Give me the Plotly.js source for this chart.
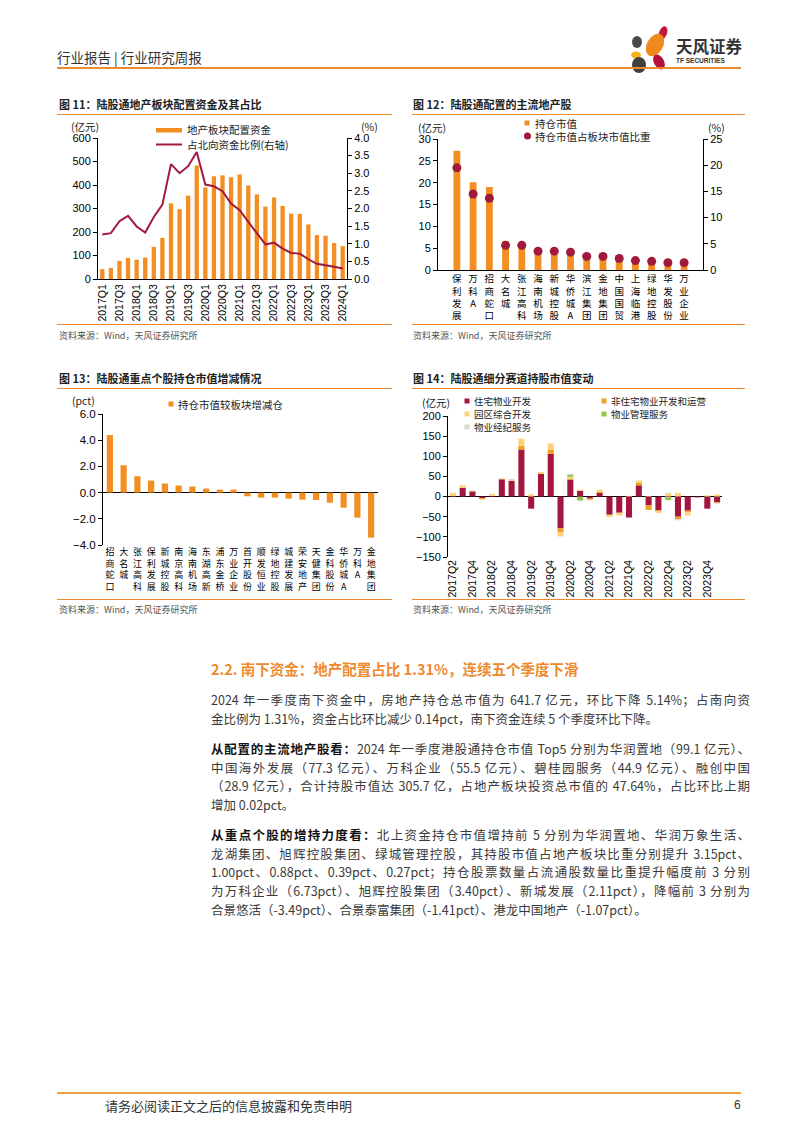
<!DOCTYPE html>
<html>
<head>
<meta charset="utf-8">
<script src="https://cdn.plot.ly/plotly-3.0.1.min.js"></script>
<style>
  body { margin: 0; background: #fff; font-family: "Noto Sans CJK SC", "Noto Sans", sans-serif; }
  #page { position: relative; width: 802px; height: 1133px; overflow: hidden; background: #fff; }
  .rule { position: absolute; height: 0; border-top: 1.5px solid #EE8A2E; }
  .ftitle { position: absolute; font-size: 11px; font-weight: bold; color: #222; line-height: 14px; white-space: nowrap; }
  .src { position: absolute; font-size: 9px; color: #555; line-height: 12px; white-space: nowrap; }
  .chart { position: absolute; width: 345px; height: 210px; }
  #body { position: absolute; left: 211px; top: 0; width: 539px; }
  .ln { position: absolute; left: 0; width: 539px; font-size: 12.5px; line-height: 18px; height: 18px; color: #3a3a3a;
        text-align: justify; text-align-last: justify; overflow: hidden; }
  .ln.last { text-align-last: left; }
  .ln b { color: #111; }
</style>
</head>
<body>
<div id="page">
  <!-- header -->
  <div style="position:absolute;left:57px;top:48px;font-size:13.5px;color:#333;line-height:18px;">行业报告 | 行业研究周报</div>
  <svg style="position:absolute;left:624px;top:24px;" width="52" height="50">
    <ellipse cx="39" cy="9" rx="4" ry="7" fill="#C3173E" transform="rotate(20 39 9)"/>
    <ellipse cx="31" cy="21" rx="8" ry="12" fill="#F0891C" transform="rotate(30 31 21)"/>
    <ellipse cx="13" cy="18" rx="5" ry="6" fill="#4A4A4A"/>
    <ellipse cx="12" cy="31" rx="5" ry="3.5" fill="#F6B21B"/>
    <ellipse cx="15" cy="41" rx="7" ry="8" fill="#3F3F3F"/>
    <ellipse cx="35" cy="38" rx="5" ry="8" fill="#B3123A" transform="rotate(-30 35 38)"/>
  </svg>
  <div style="position:absolute;left:676px;top:36px;font-size:16.5px;font-weight:bold;color:#333;line-height:20px;">天风证券</div>
  <div style="position:absolute;left:676px;top:57px;font-size:6.5px;font-weight:bold;color:#333;line-height:8px;font-family:'Liberation Sans',sans-serif;">TF SECURITIES</div>
  <div class="rule" style="left:57px;top:67px;width:684px;border-top-width:2px;"></div>

  <!-- figure titles -->
  <div class="ftitle" style="left:59px;top:97px;">图 11：陆股通地产板块配置资金及其占比</div>
  <div class="rule" style="left:57px;top:114px;width:335px;"></div>
  <div class="ftitle" style="left:413px;top:97px;">图 12：陆股通配置的主流地产股</div>
  <div class="rule" style="left:412px;top:114px;width:333px;"></div>

  <div class="rule" style="left:57px;top:324px;width:335px;"></div>
  <div class="src" style="left:59px;top:330px;">资料来源：Wind，天风证券研究所</div>
  <div class="rule" style="left:412px;top:324px;width:333px;"></div>
  <div class="src" style="left:413px;top:330px;">资料来源：Wind，天风证券研究所</div>

  <div class="ftitle" style="left:59px;top:371px;">图 13：陆股通重点个股持仓市值增减情况</div>
  <div class="rule" style="left:57px;top:388px;width:335px;"></div>
  <div class="ftitle" style="left:413px;top:371px;">图 14：陆股通细分赛道持股市值变动</div>
  <div class="rule" style="left:412px;top:388px;width:333px;"></div>

  <div class="rule" style="left:57px;top:599px;width:335px;"></div>
  <div class="src" style="left:59px;top:604px;">资料来源：Wind，天风证券研究所</div>
  <div class="rule" style="left:412px;top:599px;width:333px;"></div>
  <div class="src" style="left:413px;top:604px;">资料来源：Wind，天风证券研究所</div>

  <!-- charts -->
  <div id="c11" class="chart" style="left:55px;top:115px;"></div>
  <div id="c12" class="chart" style="left:405px;top:115px;"></div>
  <div id="c13" class="chart" style="left:55px;top:392px;"></div>
  <div id="c14" class="chart" style="left:405px;top:392px;"></div>

  <!-- section text -->
  <div style="position:absolute;left:211px;top:659px;font-size:14.5px;font-weight:bold;color:#EE8A2E;line-height:20px;white-space:nowrap;">2.2. 南下资金：地产配置占比 1.31%，连续五个季度下滑</div>
  <div id="body">
    <div class="ln" style="top:691px;">2024 年一季度南下资金中，房地产持仓总市值为 641.7 亿元，环比下降 5.14%；占南向资</div>
    <div class="ln last" style="top:710px;">金比例为 1.31%，资金占比环比减少 0.14pct，南下资金连续 5 个季度环比下降。</div>

    <div class="ln" style="top:740px;"><b>从配置的主流地产股看：</b>2024 年一季度港股通持仓市值 Top5 分别为华润置地（99.1 亿元）、</div>
    <div class="ln" style="top:759px;">中国海外发展（77.3 亿元）、万科企业（55.5 亿元）、碧桂园服务（44.9 亿元）、融创中国</div>
    <div class="ln" style="top:777px;">（28.9 亿元），合计持股市值达 305.7 亿，占地产板块投资总市值的 47.64%，占比环比上期</div>
    <div class="ln last" style="top:796px;">增加 0.02pct。</div>

    <div class="ln" style="top:826px;"><b>从重点个股的增持力度看：</b>北上资金持仓市值增持前 5 分别为华润置地、华润万象生活、</div>
    <div class="ln" style="top:845px;">龙湖集团、旭辉控股集团、绿城管理控股，其持股市值占地产板块比重分别提升 3.15pct、</div>
    <div class="ln" style="top:863px;">1.00pct、0.88pct、0.39pct、0.27pct；持仓股票数量占流通股数量比重提升幅度前 3 分别</div>
    <div class="ln" style="top:882px;">为万科企业（6.73pct）、旭辉控股集团（3.40pct）、新城发展（2.11pct），降幅前 3 分别为</div>
    <div class="ln last" style="top:901px;">合景悠活（-3.49pct）、合景泰富集团（-1.41pct）、港龙中国地产（-1.07pct）。</div>
  </div>

  <!-- footer -->
  <div class="rule" style="left:57px;top:1092px;width:684px;border-top:2px solid #E9A23B;"></div>
  <div style="position:absolute;left:105px;top:1097px;font-size:13px;color:#333;line-height:17px;">请务必阅读正文之后的信息披露和免责申明</div>
  <div style="position:absolute;left:734px;top:1097px;font-size:12px;color:#333;line-height:17px;font-family:'Liberation Sans',sans-serif;">6</div>
</div>

<script>
// ---- data: figure 11 ----
const quarters11 = ['2017Q1','2017Q2','2017Q3','2017Q4','2018Q1','2018Q2','2018Q3','2018Q4',
  '2019Q1','2019Q2','2019Q3','2019Q4','2020Q1','2020Q2','2020Q3','2020Q4',
  '2021Q1','2021Q2','2021Q3','2021Q4','2022Q1','2022Q2','2022Q3','2022Q4',
  '2023Q1','2023Q2','2023Q3','2023Q4','2024Q1'];
const alloc11 = [42, 47, 77, 90, 82, 91, 137, 175, 322, 297, 355, 483, 390, 437, 441, 433,
  445, 398, 360, 308, 347, 311, 278, 277, 232, 187, 184, 153, 140];
const ratio11 = [1.26, 1.30, 1.64, 1.79, 1.49, 1.32, 1.76, 2.11, 3.26, 3.00, 3.20, 3.60, 2.68, 2.63, 2.49, 2.14,
  1.95, 1.61, 1.30, 0.98, 1.03, 0.86, 0.74, 0.72, 0.56, 0.43, 0.40, 0.35, 0.30];
const ticks11 = ['2017Q1','2017Q3','2018Q1','2018Q3','2019Q1','2019Q3','2020Q1','2020Q3',
  '2021Q1','2021Q3','2022Q1','2022Q3','2023Q1','2023Q3','2024Q1'];

// ---- data: figure 12 ----
const stocks12 = ['保利发展','万科A','招商蛇口','大名城','张江高科','海南机场','新城控股','华侨城A',
  '滨江集团','金地集团','中国国贸','上海临港','绿地控股','华发股份','万业企业'];
const holding12 = [27.3, 20.1, 19.0, 6.6, 6.4, 5.0, 4.9, 4.6, 3.7, 3.8, 2.9, 2.2, 2.0, 1.6, 1.6];
const share12 = [19.5, 14.5, 13.7, 4.7, 4.7, 3.6, 3.6, 3.4, 2.6, 2.6, 2.2, 1.8, 1.65, 1.4, 1.4];

// ---- data: figure 13 ----
const stocks13 = ['招商蛇口','大名城','张江高科','保利发展','新城控股','南京高科','海南机场','东湖高新',
  '浦东金桥','万业企业','首开股份','顺发恒业','绿地控股','城建发展','荣安地产','天健集团',
  '金科股份','华侨城A','万科A','金地集团'];
const change13 = [4.39, 2.09, 1.25, 0.92, 0.69, 0.54, 0.46, 0.31, 0.23, 0.23,
  -0.28, -0.38, -0.38, -0.46, -0.54, -0.56, -0.77, -1.15, -1.91, -3.44];

// ---- data: figure 14 ----
const quarters14 = ['2017Q2','2017Q3','2017Q4','2018Q1','2018Q2','2018Q3','2018Q4','2019Q1',
  '2019Q2','2019Q3','2019Q4','2020Q1','2020Q2','2020Q3','2020Q4','2021Q1',
  '2021Q2','2021Q3','2021Q4','2022Q1','2022Q2','2022Q3','2022Q4','2023Q1',
  '2023Q2','2023Q3','2023Q4','2024Q1'];
const ticks14 = ['2017Q2','2017Q4','2018Q2','2018Q4','2019Q2','2019Q4','2020Q2','2020Q4',
  '2021Q2','2021Q4','2022Q2','2022Q4','2023Q2','2023Q4'];
const residential14 = [1, 22, 13, -4, 2, 43, 39, 117, -30, 56, 106, -79, 42, 14, -5, 9,
  -45, -40, -52, 28, -22, -34, -2, -50, -35, -2, -30, -14];
const nonResidential14 = [0, 0, 0, -2, 0, 0, 0, 9, 0, 0, 11, -9, 3, 0, -3, 3,
  -2, -2, 0, 7, -11, -3, 0, -6, -4, 0, 0, -2];
const park14 = [8, 6, 2, -2, 5, 2, 2, 18, 6, 5, 15, -11, 4, 3, -1, 5,
  -4, -5, 2, 5, 2, -4, 8, 9, -8, 0, 3, 5];
const propMgmt14 = [0, 0, 0, 0, 0, 0, 0, 0, 0, 0, 0, 0, 5, -10, 0, 0,
  0, 0, 0, 0, 0, 0, -7, 0, 0, 0, 0, 0];
const brokerage14 = [0, 0, 0, 0, 0, 0, 3, 0, 0, 0, 0, 0, 3, 0, 0, 0,
  0, 0, 0, 0, 0, 0, 2, -3, 0, 0, 0, -2];

const NUM = 'Liberation Sans, Arial, sans-serif';
const CJK = 'Noto Sans CJK SC, sans-serif';
const ORANGE = '#F28E22';
const DARKRED = '#A01A3D';
const W = 345, H = 210;

// page pixel -> paper coords for a chart div
function mapper(ox, oy, m) {
  return {
    x: X => (X - ox - m.l) / (W - m.l - m.r),
    y: Y => (H - m.b - (Y - oy)) / (H - m.t - m.b)
  };
}

function label(p, X, Y, text, size, anchor) {
  return {
    xref: 'paper', yref: 'paper', x: p.x(X), y: p.y(Y), text: text, showarrow: false,
    xanchor: anchor || 'left', yanchor: 'middle',
    font: { family: CJK, size: size || 10.5, color: '#222' }
  };
}

function square(p, X, Y, color, s) {
  const h = (s || 5) / 2;
  return { type: 'rect', xref: 'paper', yref: 'paper', x0: p.x(X - h), x1: p.x(X + h),
    y0: p.y(Y + h), y1: p.y(Y - h), fillcolor: color, line: { width: 0 } };
}

function axisY(extra) {
  return Object.assign({
    showline: true, linecolor: '#000', linewidth: 1, ticks: 'outside', ticklen: 4,
    tickcolor: '#000', showgrid: false, zeroline: false,
    tickfont: { family: NUM, size: 11, color: '#000' }
  }, extra);
}

const vertical = s => s.split('').join('<br>');
const config = { staticPlot: true, displayModeBar: false };

// ---------- figure 11 ----------
(function () {
  const m = { l: 43, r: 53, t: 23, b: 46, pad: 0 };
  const p = mapper(55, 115, m);
  Plotly.newPlot('c11', [
    { type: 'bar', x: quarters11, y: alloc11, marker: { color: ORANGE }, yaxis: 'y' },
    { type: 'scatter', mode: 'lines', x: quarters11, y: ratio11, yaxis: 'y2',
      line: { color: DARKRED, width: 2 } }
  ], {
    width: W, height: H, margin: m, showlegend: false, bargap: 0.5,
    paper_bgcolor: 'rgba(0,0,0,0)', plot_bgcolor: 'rgba(0,0,0,0)',
    xaxis: { type: 'category', range: [-0.5, 28.5], tickmode: 'array', tickvals: ticks11,
      tickangle: -90, showline: true, linecolor: '#000', linewidth: 1, ticks: '',
      showgrid: false, zeroline: false, tickfont: { family: NUM, size: 10.5, color: '#000' } },
    yaxis: axisY({ range: [0, 600], dtick: 100 }),
    yaxis2: axisY({ range: [0, 4], dtick: 0.5, tickformat: '.1f', overlaying: 'y', side: 'right' }),
    shapes: [
      { type: 'rect', xref: 'paper', yref: 'paper', x0: p.x(156), x1: p.x(182), y0: p.y(132.5), y1: p.y(128),
        fillcolor: ORANGE, line: { width: 0 } },
      { type: 'line', xref: 'paper', yref: 'paper', x0: p.x(156), x1: p.x(182), y0: p.y(144.5), y1: p.y(144.5),
        line: { color: DARKRED, width: 2 } }
    ],
    annotations: [
      label(p, 185, 130, '地产板块配置资金'),
      label(p, 185, 145, '占北向资金比例(右轴)'),
      label(p, 69, 126.5, '(亿元)', 10.5),
      label(p, 359, 126.5, '(%)', 10.5)
    ]
  }, config);
})();

// ---------- figure 12 ----------
(function () {
  const m = { l: 33, r: 47, t: 24, b: 55, pad: 0 };
  const p = mapper(405, 115, m);
  Plotly.newPlot('c12', [
    { type: 'bar', x: stocks12, y: holding12, marker: { color: ORANGE }, yaxis: 'y' },
    { type: 'scatter', mode: 'markers', x: stocks12, y: share12, yaxis: 'y2',
      marker: { color: DARKRED, size: 9 } }
  ], {
    width: W, height: H, margin: m, showlegend: false, bargap: 0.58,
    paper_bgcolor: 'rgba(0,0,0,0)', plot_bgcolor: 'rgba(0,0,0,0)',
    xaxis: { type: 'category', tickmode: 'array', tickvals: stocks12, ticktext: stocks12.map(vertical),
      tickangle: 0, showline: true, linecolor: '#000', linewidth: 1, ticks: '',
      showgrid: false, zeroline: false, tickfont: { family: CJK, size: 9.5, color: '#000' } },
    yaxis: axisY({ range: [0, 30], dtick: 5 }),
    yaxis2: axisY({ range: [0, 25], dtick: 5, overlaying: 'y', side: 'right' }),
    shapes: [
      square(p, 527, 123, ORANGE, 5),
      { type: 'circle', xref: 'paper', yref: 'paper', x0: p.x(524), x1: p.x(531), y0: p.y(139.5), y1: p.y(132.5),
        fillcolor: DARKRED, line: { width: 0 } }
    ],
    annotations: [
      label(p, 533, 123, '持仓市值'),
      label(p, 533, 136, '持仓市值占板块市值比重'),
      label(p, 416, 127.5, '(亿元)', 10.5),
      label(p, 706, 127.5, '(%)', 10.5)
    ]
  }, config);
})();

// ---------- figure 13 ----------
(function () {
  const m = { l: 48, r: 22, t: 22, b: 57, pad: 0 };
  const p = mapper(55, 392, m);
  Plotly.newPlot('c13', [
    { type: 'bar', x: stocks13, y: change13, marker: { color: ORANGE } }
  ], {
    width: W, height: H, margin: m, showlegend: false, bargap: 0.55,
    paper_bgcolor: 'rgba(0,0,0,0)', plot_bgcolor: 'rgba(0,0,0,0)',
    xaxis: { type: 'category', tickmode: 'array', tickvals: stocks13, ticktext: stocks13.map(vertical),
      tickangle: 0, showline: false, ticks: '', showgrid: false, zeroline: false,
      tickfont: { family: CJK, size: 9, color: '#000' } },
    yaxis: axisY({ range: [-4, 6], dtick: 2, tickformat: '.1f', zeroline: true, zerolinecolor: '#000',
      zerolinewidth: 1, tickfont: { family: NUM, size: 11.5, color: '#000' } }),
    shapes: [ square(p, 171, 404, ORANGE, 5) ],
    annotations: [
      label(p, 176, 404, '持仓市值较板块增减仓'),
      label(p, 70, 400.5, '(pct)', 10.5)
    ]
  }, config);
})();

// ---------- figure 14 ----------
(function () {
  const m = { l: 43, r: 28, t: 24, b: 45, pad: 0 };
  const p = mapper(405, 392, m);
  const series = [
    { name: '住宅物业开发', y: residential14, color: '#A3173E' },
    { name: '非住宅物业开发和运营', y: nonResidential14, color: '#F0A01E' },
    { name: '园区综合开发', y: park14, color: '#FFD27A' },
    { name: '物业管理服务', y: propMgmt14, color: '#93C54B' },
    { name: '物业经纪服务', y: brokerage14, color: '#D9D9D9' }
  ];
  const legendPos = [[467, 401], [604, 401], [467, 414], [604, 414], [467, 427]];
  Plotly.newPlot('c14', series.map(s => ({
    type: 'bar', name: s.name, x: quarters14, y: s.y, marker: { color: s.color }
  })), {
    width: W, height: H, margin: m, showlegend: false, barmode: 'relative', bargap: 0.38,
    paper_bgcolor: 'rgba(0,0,0,0)', plot_bgcolor: 'rgba(0,0,0,0)',
    xaxis: { type: 'category', tickmode: 'array', tickvals: ticks14, tickangle: -90,
      showline: false, ticks: '', showgrid: false, zeroline: false,
      tickfont: { family: NUM, size: 10.5, color: '#000' } },
    yaxis: axisY({ range: [-150, 200], dtick: 50, zeroline: true, zerolinecolor: '#000', zerolinewidth: 1 }),
    shapes: series.map((s, i) => square(p, legendPos[i][0], legendPos[i][1], s.color, 5)),
    annotations: series.map((s, i) => label(p, legendPos[i][0] + 5, legendPos[i][1], s.name, 9.5))
      .concat([label(p, 420, 402, '(亿元)', 10.5)])
  }, config);
})();
</script>
</body>
</html>
